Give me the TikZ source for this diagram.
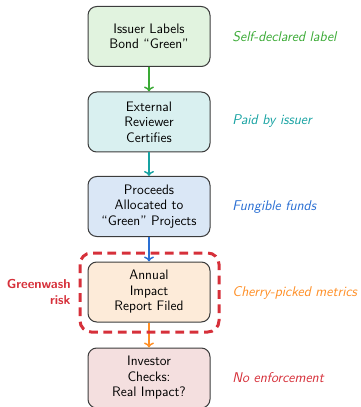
\documentclass[tikz,border=0pt]{standalone}
\usetikzlibrary{arrows.meta}
\definecolor{bxgreen}{HTML}{E1F3DF}
\definecolor{bxteal}{HTML}{D9F0F0}
\definecolor{bxblue}{HTML}{DAE7F6}
\definecolor{bxorange}{HTML}{FDEBD9}
\definecolor{bxred}{HTML}{F4DFDF}
\definecolor{cgreen}{HTML}{3AAA35}
\definecolor{cteal}{HTML}{17A2A2}
\definecolor{cblue}{HTML}{2A6FD3}
\definecolor{corange}{HTML}{FF8F26}
\definecolor{cred}{HTML}{D6303A}
\definecolor{bxdraw}{HTML}{3C3C3C}
\begin{document}
\begin{tikzpicture}[x=0.8pt,y=-0.8pt,
  font=\sffamily\fontsize{11}{12.4}\selectfont,
  stepbox/.style={draw=bxdraw, line width=0.8pt, rounded corners=7pt, minimum width=122*0.8pt, minimum height=60*0.8pt, align=center, inner sep=2pt},
  note/.style={anchor=west, font=\sffamily\itshape\fontsize{11.3}{13}\selectfont},
  flow/.style={line width=1.2pt, -{To[length=4pt,width=8pt]}}
]
\useasboundingbox (0,0) rectangle (360,407);
\node[stepbox, fill=bxgreen] (b1) at (149,36.5) {Issuer Labels\\Bond ``Green''};
\node[stepbox, fill=bxteal] (b2) at (149,122) {External\\Reviewer\\Certifies};
\node[stepbox, fill=bxblue] (b3) at (149,206.5) {Proceeds\\Allocated to\\``Green'' Projects};
\node[stepbox, fill=bxorange] (b4) at (149,292) {Annual\\Impact\\Report Filed};
\node[stepbox, fill=bxred] (b5) at (149,378) {Investor\\Checks:\\Real Impact?};
\draw[flow, cgreen] (b1) -- (b2);
\draw[flow, cteal] (b2) -- (b3);
\draw[flow, cblue] (b3) -- (b4);
\draw[flow, corange] (b4) -- (b5);
\coordinate (r1) at (80,253);
\coordinate (r2) at (219,332);
\draw[cred, line width=2.4pt, dash pattern=on 7pt off 4.5pt, rounded corners=9pt] (r1) rectangle (r2);
\node[font=\sffamily\bfseries\fontsize{10.4}{13.5}\selectfont, text=cred, align=right, anchor=east] (gw) at (75,292) {Greenwash\\risk};
\node[note, text=cgreen] (n1) at (228,36.5) {Self-declared label};
\node[note, text=cteal] (n2) at (228,121) {Paid by issuer};
\node[note, text=cblue] (n3) at (228,206.5) {Fungible funds};
\node[note, text=corange] (n4) at (228,292.5) {Cherry-picked metrics};
\node[note, text=cred] (n5) at (228,378) {No enforcement};
\end{tikzpicture}
\end{document}
